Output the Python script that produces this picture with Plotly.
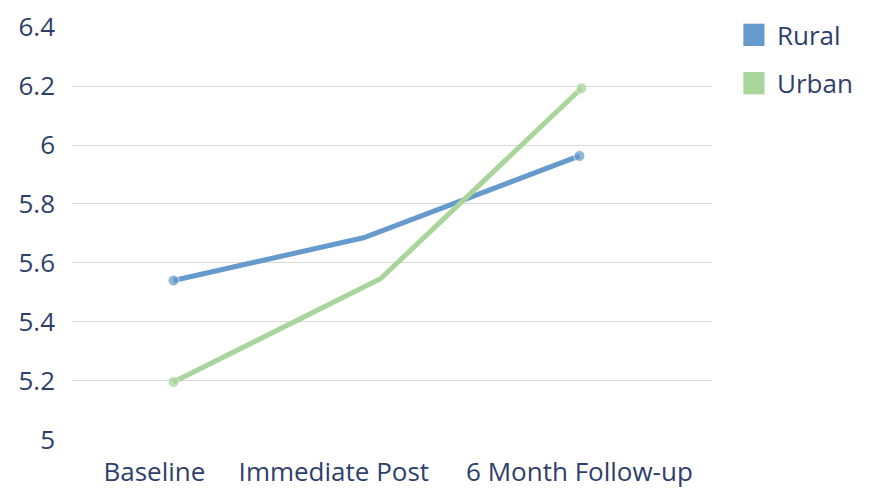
import plotly.graph_objects as go

# Survey scores by phase
phases = ["Baseline", "Immediate Post", "6 Month Follow-up"]
phase_label_pos = [-0.094, 0.79, 2.0]

rural_x = [0.0, 0.936, 2.0]
rural_y = [5.54, 5.685, 5.963]

urban_x = [0.0, 1.02, 2.01]
urban_y = [5.195, 5.546, 6.193]

y_ticks = [5, 5.2, 5.4, 5.6, 5.8, 6, 6.2, 6.4]
y_tick_text = ["5", "5.2", "5.4", "5.6", "5.8", "6", "6.2", "6.4"]

RURAL_COLOR = "#6699CC"
URBAN_COLOR = "#A9D49A"
TEXT_COLOR = "#2F3F6B"
FONT = "'Open Sans', Lato, sans-serif"

fig = go.Figure()
for name, xs, ys, color in [("Rural", rural_x, rural_y, RURAL_COLOR),
                            ("Urban", urban_x, urban_y, URBAN_COLOR)]:
    fig.add_trace(go.Scatter(
        x=xs, y=ys, name=name, mode="lines+markers",
        line=dict(color=color, width=5),
        marker=dict(color=color, size=[11, 0, 11]),
        showlegend=False, hoverinfo="y+name",
    ))

# Square-swatch legend drawn in paper space
legend_items = [("Rural", RURAL_COLOR, 0.981), ("Urban", URBAN_COLOR, 0.864)]
for name, color, yc in legend_items:
    fig.add_shape(type="rect", xref="paper", yref="paper",
                  x0=1.049, x1=1.082, y0=yc - 0.027, y1=yc + 0.027,
                  fillcolor=color, line=dict(width=0))
    fig.add_annotation(xref="paper", yref="paper", x=1.098, y=yc,
                       text=name, showarrow=False, xanchor="left",
                       yanchor="middle",
                       font=dict(family=FONT, size=26, color=TEXT_COLOR))

fig.update_layout(
    width=878, height=490,
    margin=dict(l=72, r=166, t=27, b=50, autoexpand=False),
    paper_bgcolor="white", plot_bgcolor="white",
    font=dict(family=FONT, size=26, color=TEXT_COLOR),
    xaxis=dict(range=[-0.5, 2.653], tickvals=phase_label_pos, ticktext=phases,
               showgrid=False, zeroline=False, showline=False, ticks="",
               ticklabelstandoff=14, automargin=False, fixedrange=True),
    yaxis=dict(range=[4.998, 6.401], tickvals=y_ticks, ticktext=y_tick_text,
               showgrid=True, gridcolor="#D9D9D9", gridwidth=1,
               zeroline=False, showline=False, ticks="",
               ticklabelstandoff=16, automargin=False, fixedrange=True),
)

fig.write_html("out.html")
